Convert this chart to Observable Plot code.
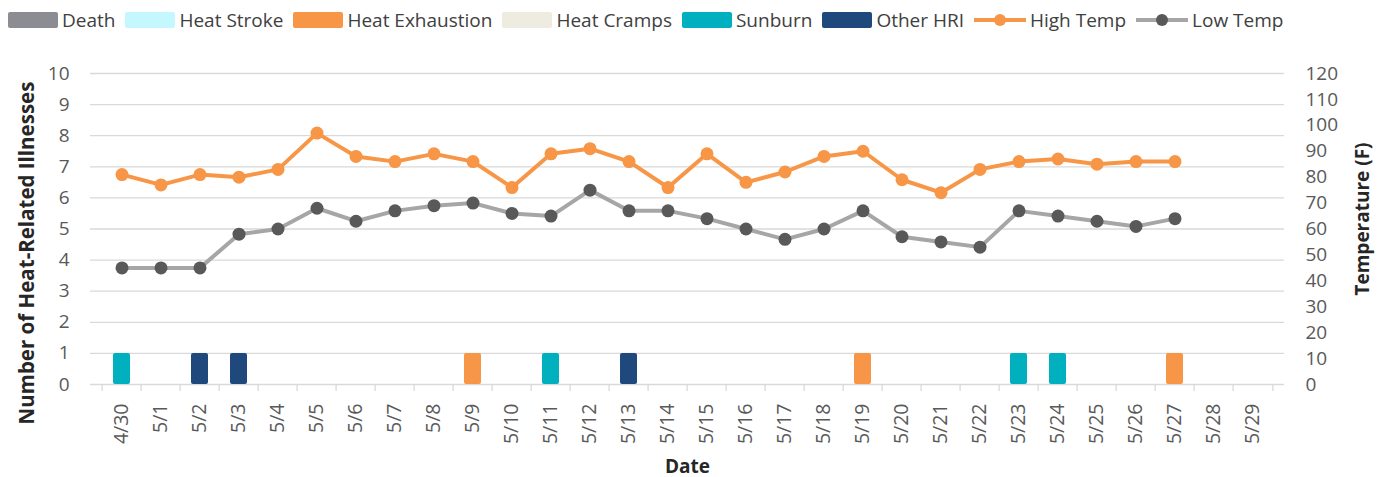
<!DOCTYPE html>
<html><head><meta charset="utf-8">
<script src="https://cdn.jsdelivr.net/npm/d3@7"></script>
<script src="https://cdn.jsdelivr.net/npm/@observablehq/plot@0.6"></script>
<style>
body{margin:0;background:#fff;font-family:"Open Sans",sans-serif;}
#legend{height:40px;display:flex;align-items:center;padding-left:8px;font-size:19px;color:#404040;white-space:nowrap;box-sizing:border-box}
.item{display:flex;align-items:center;margin-right:10px}
.sw{width:50px;height:16px;margin-right:4px;border-radius:2px}
.ln{width:52px;height:16px;margin-right:4px;position:relative}
.ln .bar{position:absolute;left:0;right:0;top:6px;height:4px}
.ln .dt{position:absolute;left:20px;top:2px;width:12px;height:12px;border-radius:50%}
#chart svg{display:block}
</style></head><body>
<div id="legend"></div>
<div id="chart"></div>
<script>
const dates = ["4/30","5/1","5/2","5/3","5/4","5/5","5/6","5/7","5/8","5/9","5/10","5/11","5/12","5/13","5/14","5/15","5/16","5/17","5/18","5/19","5/20","5/21","5/22","5/23","5/24","5/25","5/26","5/27","5/28","5/29"];
const highTemp = [81,77,81,80,83,97,88,86,89,86,76,89,91,86,76,89,78,82,88,90,79,74,83,86,87,85,86,86];
const lowTemp  = [45,45,45,58,60,68,63,67,69,70,66,65,75,67,67,64,60,56,60,67,57,55,53,67,65,63,61,64];
const caseDates  = ["4/30","5/2","5/3","5/9","5/11","5/13","5/19","5/23","5/24","5/27"];
const caseTypes  = ["Sunburn","Other HRI","Other HRI","Heat Exhaustion","Sunburn","Other HRI","Heat Exhaustion","Sunburn","Sunburn","Heat Exhaustion"];
const caseCounts = [1,1,1,1,1,1,1,1,1,1];
const categories = ["Death","Heat Stroke","Heat Exhaustion","Heat Cramps","Sunburn","Other HRI"];
const categoryColors = ["#8c8c93","#c4f8fe","#f79646","#eeece1","#00b0be","#1f497d"];
const lineSeries = ["High Temp","Low Temp"];
const lineColors = ["#f79646","#a6a6a6"];
const dotColors = ["#f79646","#595959"];
const countTicks = [0,1,2,3,4,5,6,7,8,9,10];
const tempTicks = [0,10,20,30,40,50,60,70,80,90,100,110,120];

// legend
const lg = document.getElementById("legend");
categories.forEach((c,i)=>{
  const it=document.createElement("div");it.className="item";
  it.innerHTML=`<div class="sw" style="background:${categoryColors[i]}"></div><span>${c}</span>`;
  lg.appendChild(it);
});
lineSeries.forEach((c,i)=>{
  const it=document.createElement("div");it.className="item";
  it.innerHTML=`<div class="ln"><div class="bar" style="background:${lineColors[i]}"></div><div class="dt" style="background:${dotColors[i]}"></div></div><span>${c}</span>`;
  lg.appendChild(it);
});

const W=1386, H=437, mL=90, mR=102, mT=33, mB=93;
const step=(W-mL-mR)/dates.length;
const F = tempTicks[tempTicks.length-1]/countTicks[countTicks.length-1];
const temps = highTemp.map((h,i)=>({date:dates[i], high:h, low:lowTemp[i]}));
const cases = caseDates.map((d,i)=>({date:d, type:caseTypes[i], count:caseCounts[i]}));
const titleStyle = {fontWeight:"bold", fill:"#262626", fontSize:19, textAnchor:"middle"};

const chart = Plot.plot({
  width:W, height:H, marginLeft:mL, marginRight:mR, marginTop:mT, marginBottom:mB,
  style:{fontFamily:'"Open Sans",sans-serif', fontSize:"19px", color:"#595959", background:"#fff", overflow:"visible"},
  x:{type:"band", domain:dates, padding:0, label:null},
  y:{domain:[0,10], label:null},
  color:{domain:categories, range:categoryColors},
  marks:[
    Plot.gridY(countTicks.slice(1), {stroke:"#d9d9d9", strokeOpacity:1, strokeWidth:1.3}),
    Plot.ruleY([0], {stroke:"#d9d9d9", strokeWidth:1.3}),
    Plot.axisY(countTicks, {anchor:"left", tickSize:0, tickPadding:21, label:null, fontSize:19}),
    Plot.axisY(tempTicks.map(t=>t/F), {anchor:"right", tickSize:0, tickPadding:21, tickFormat:d=>Math.round(d*F), label:null, fontSize:19}),
    Plot.axisX(dates, {fill:"none", tickSize:7, stroke:"#d9d9d9", strokeWidth:1.3, dx:-step/2}),
    Plot.axisX(dates.slice(-1), {fill:"none", tickSize:7, stroke:"#d9d9d9", strokeWidth:1.3, dx:step/2}),
    Plot.axisX(dates, {tickSize:0, tickRotate:-90, tickPadding:19, label:null, fontSize:19.5}),
    Plot.barY(cases, {x:"date", y:"count", fill:"type", insetLeft:11, insetRight:11, rx:2}),
    Plot.line(temps, {x:"date", y:d=>d.low/F, stroke:lineColors[1], strokeWidth:4}),
    Plot.dot(temps, {x:"date", y:d=>d.low/F, fill:dotColors[1], r:6.5}),
    Plot.line(temps, {x:"date", y:d=>d.high/F, stroke:lineColors[0], strokeWidth:4}),
    Plot.dot(temps, {x:"date", y:d=>d.high/F, fill:dotColors[0], r:6.5}),
    Plot.text(["Number of Heat-Related Illnesses"], {frameAnchor:"left", dx:-63, dy:24, rotate:-90, ...titleStyle, fontSize:20.5}),
    Plot.text(["Temperature (F)"], {frameAnchor:"right", dx:78, dy:-10, rotate:-90, ...titleStyle}),
    Plot.text(["Date"], {frameAnchor:"bottom", dy:88, ...titleStyle})
  ]
});
document.getElementById("chart").appendChild(chart);
</script>
</body></html>
